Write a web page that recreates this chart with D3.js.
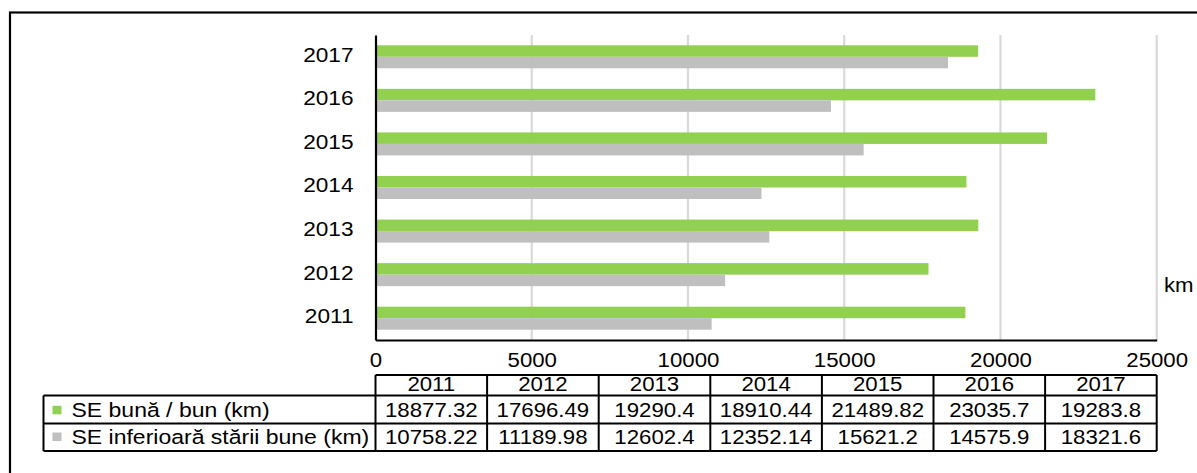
<!DOCTYPE html>
<html>
<head>
<meta charset="utf-8">
<script src="https://cdn.jsdelivr.net/npm/d3@7"></script>
<style>
  html, body { margin: 0; padding: 0; background: #fff; }
  svg { display: block; font-family: "Liberation Sans", Arial, sans-serif; }
</style>
</head>
<body>
<svg id="chart" width="1197" height="473"></svg>
<script>
// Categories (years) and the two series, in km
const years = ["2011", "2012", "2013", "2014", "2015", "2016", "2017"];
const goodStatus = [18877.32, 17696.49, 19290.4, 18910.44, 21489.82, 23035.7, 19283.8];
const belowGood = [10758.22, 11189.98, 12602.4, 12352.14, 15621.2, 14575.9, 18321.6];
const goodLabels = ["18877.32", "17696.49", "19290.4", "18910.44", "21489.82", "23035.7", "19283.8"];
const belowLabels = ["10758.22", "11189.98", "12602.4", "12352.14", "15621.2", "14575.9", "18321.6"];
const seriesNames = ["SE bună / bun (km)", "SE inferioară stării bune (km)"];
const xTicks = [0, 5000, 10000, 15000, 20000, 25000];
const unitLabel = "km";

const GREEN = "#92d050";
const GREY = "#bfbfbf";
const FS = 19.5;      // font size
const SX = 1.14;      // horizontal stretch of the glyphs

const svg = d3.select("#chart");

// outer frame
svg.append("rect")
  .attr("x", 10).attr("y", 12.5)
  .attr("width", 1300).attr("height", 600)
  .attr("fill", "none").attr("stroke", "#000").attr("stroke-width", 2.2);

const plotL = 375.5, plotR = 1156.7, plotT = 35, plotB = 340;

const x = d3.scaleLinear().domain([0, 25000]).range([plotL, plotR]);
const y = d3.scaleBand()
  .domain(years.slice().reverse())
  .range([plotT, plotB])
  .paddingInner(0.472)
  .paddingOuter(0.236);

// vertical gridlines
svg.append("g")
  .selectAll("line")
  .data(xTicks.filter(d => d > 0))
  .join("line")
  .attr("x1", d => x(d)).attr("x2", d => x(d))
  .attr("y1", plotT).attr("y2", plotB)
  .attr("stroke", "#d9d9d9").attr("stroke-width", 2.2);

// bars
const rows = years.map((yr, i) => ({ yr, good: goodStatus[i], below: belowGood[i] }));
const half = y.bandwidth() / 2;
const barG = svg.append("g");
barG.selectAll("rect.good")
  .data(rows)
  .join("rect")
  .attr("class", "good")
  .attr("x", x(0))
  .attr("y", d => y(d.yr))
  .attr("width", d => x(d.good) - x(0))
  .attr("height", half)
  .attr("fill", GREEN);
barG.selectAll("rect.below")
  .data(rows)
  .join("rect")
  .attr("class", "below")
  .attr("x", x(0))
  .attr("y", d => y(d.yr) + half)
  .attr("width", d => x(d.below) - x(0))
  .attr("height", half)
  .attr("fill", GREY);

// y axis
const yAxis = svg.append("g")
  .attr("transform", `translate(${plotL},0)`)
  .call(d3.axisLeft(y).tickSize(0).tickPadding(19));
yAxis.select(".domain").attr("stroke", "#000").attr("stroke-width", 2.2);
yAxis.selectAll("text")
  .attr("font-size", FS).attr("fill", "#000")
  .attr("font-family", "Liberation Sans, Arial, sans-serif")
  .attr("transform", `scale(${SX + 0.02},1)`)
  .attr("dy", "0.25em");

// x axis
const xAxis = svg.append("g")
  .attr("transform", `translate(0,${plotB})`)
  .call(d3.axisBottom(x).tickValues(xTicks).tickSize(0).tickPadding(13).tickFormat(d3.format("d")));
xAxis.select(".domain").attr("stroke", "#000").attr("stroke-width", 1.8);
xAxis.selectAll("text")
  .attr("font-size", FS).attr("fill", "#000")
  .attr("font-family", "Liberation Sans, Arial, sans-serif")
  .attr("transform", `scale(${SX},1)`);

// unit label
svg.append("text")
  .attr("transform", `translate(1164,292) scale(${SX},1)`)
  .attr("font-size", FS)
  .text(unitLabel);

// data table
const colEdges = years.map((_, i) => x(i * 25000 / years.length));
colEdges.push(plotR);
const colW = (plotR - plotL) / years.length;
const tTop = 375, tHead = 395.5, tMid = 423.5, tBot = 451, legLeft = 43.5;

const table = svg.append("g").attr("fill", "none").attr("stroke", "#000").attr("stroke-width", 2);
// horizontal rules
table.append("line").attr("x1", plotL).attr("x2", plotR).attr("y1", tTop).attr("y2", tTop);
table.append("line").attr("x1", legLeft).attr("x2", plotR).attr("y1", tHead).attr("y2", tHead);
table.append("line").attr("x1", legLeft).attr("x2", plotR).attr("y1", tMid).attr("y2", tMid);
table.append("line").attr("x1", legLeft).attr("x2", plotR).attr("y1", tBot).attr("y2", tBot);
// vertical rules
table.append("line").attr("x1", legLeft).attr("x2", legLeft).attr("y1", tHead).attr("y2", tBot);
table.selectAll("line.col")
  .data(colEdges)
  .join("line")
  .attr("class", "col")
  .attr("x1", d => d).attr("x2", d => d)
  .attr("y1", tTop).attr("y2", tBot);

const cellText = (g, txt, cx, by, anchor, sx = SX) =>
  g.append("text")
    .attr("transform", `translate(${cx},${by}) scale(${sx},1)`)
    .attr("text-anchor", anchor)
    .attr("font-size", FS)
    .attr("fill", "#000")
    .text(txt);

const tg = svg.append("g");
years.forEach((yr, i) => {
  const cx = colEdges[i] + colW / 2;
  cellText(tg, yr, cx, 390.5, "middle");
  cellText(tg, goodLabels[i], cx, 416.8, "middle");
  cellText(tg, belowLabels[i], cx, 443.5, "middle");
});

// legend keys inside the table
[GREEN, GREY].forEach((c, i) => {
  const by = i === 0 ? 416.8 : 443.5;
  tg.append("rect")
    .attr("x", 52.5).attr("y", by - 11)
    .attr("width", 9).attr("height", 8.5)
    .attr("fill", c);
  cellText(tg, seriesNames[i], 71.5, by, "start", SX + 0.04);
});
</script>
</body>
</html>
